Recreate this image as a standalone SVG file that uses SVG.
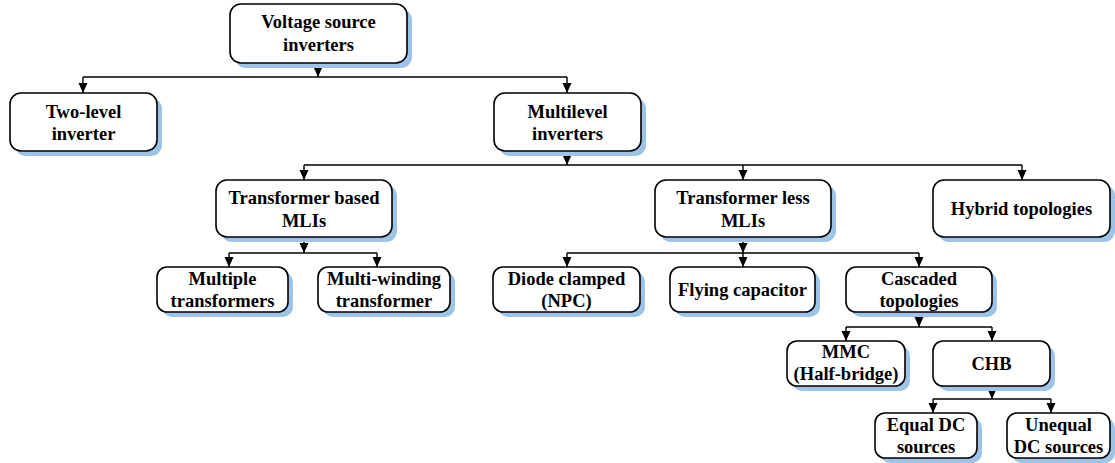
<svg xmlns="http://www.w3.org/2000/svg" width="1115" height="463" viewBox="0 0 1115 463">
<defs>
<marker id="ah" viewBox="0 0 10 10" refX="10" refY="5" markerWidth="11" markerHeight="10" markerUnits="userSpaceOnUse" orient="auto">
<path d="M0,0.5 L10,5 L0,9.5 Z" fill="#000"/>
</marker>
<style>
.sh{fill:#9DC3E6;stroke:none}
.bx{fill:#fff;stroke:#000;stroke-width:1.6}
.t{font-family:"Liberation Serif","Times New Roman","DejaVu Serif",serif;font-weight:bold;font-size:18.5px;fill:#000;text-anchor:middle}
.c{fill:none;stroke:#000;stroke-width:1.4}
.a{fill:none;stroke:#000;stroke-width:1.4;marker-end:url(#ah)}
</style>
</defs>
<rect width="1115" height="463" fill="#fff"/>

<g id="connectors">
<path class="a" d="M318,63 V77"/>
<path class="c" d="M83,77 H567"/>
<path class="a" d="M83,77 V93"/>
<path class="a" d="M567,77 V93"/>

<path class="a" d="M567,151 V165"/>
<path class="c" d="M304,165 H1022"/>
<path class="a" d="M304,165 V180"/>
<path class="a" d="M743,165 V180"/>
<path class="a" d="M1022,165 V180"/>

<path class="a" d="M304,237 V253"/>
<path class="c" d="M229,253 H377"/>
<path class="a" d="M229,253 V267"/>
<path class="a" d="M377,253 V267"/>

<path class="a" d="M743,237 V253"/>
<path class="c" d="M567,253 H919"/>
<path class="a" d="M567,253 V267"/>
<path class="a" d="M743,253 V267"/>
<path class="a" d="M919,253 V267"/>

<path class="a" d="M919,312 V327"/>
<path class="c" d="M846,327 H992"/>
<path class="a" d="M846,327 V341"/>
<path class="a" d="M992,327 V341"/>

<path class="a" d="M992,386 V399"/>
<path class="c" d="M933,399 H1051"/>
<path class="a" d="M933,399 V413"/>
<path class="a" d="M1051,399 V413"/>
</g>

<g id="vsi">
<rect class="sh" x="235" y="9" width="177" height="59" rx="11"/>
<rect class="bx" x="230" y="4" width="177" height="59" rx="11"/>
<text class="t" x="318.5" y="28">Voltage source</text>
<text class="t" x="318.5" y="51">inverters</text>
</g>

<g id="two-level">
<rect class="sh" x="15" y="98" width="147" height="58" rx="11"/>
<rect class="bx" x="10" y="93" width="147" height="58" rx="11"/>
<text class="t" x="83.5" y="118">Two-level</text>
<text class="t" x="83.5" y="140">inverter</text>
</g>

<g id="multilevel">
<rect class="sh" x="499" y="98" width="147" height="58" rx="11"/>
<rect class="bx" x="494" y="93" width="147" height="58" rx="11"/>
<text class="t" x="567.5" y="118">Multilevel</text>
<text class="t" x="567.5" y="140">inverters</text>
</g>

<g id="transformer-based">
<rect class="sh" x="221" y="185" width="176" height="57" rx="11"/>
<rect class="bx" x="216" y="180" width="176" height="57" rx="11"/>
<text class="t" x="304" y="204">Transformer based</text>
<text class="t" x="304" y="227">MLIs</text>
</g>

<g id="transformer-less">
<rect class="sh" x="660" y="185" width="176" height="57" rx="11"/>
<rect class="bx" x="655" y="180" width="176" height="57" rx="11"/>
<text class="t" x="743" y="204">Transformer less</text>
<text class="t" x="743" y="227">MLIs</text>
</g>

<g id="hybrid">
<rect class="sh" x="938" y="185" width="177" height="57" rx="11"/>
<rect class="bx" x="933" y="180" width="177" height="57" rx="11"/>
<text class="t" x="1021.5" y="215">Hybrid topologies</text>
</g>

<g id="multiple-transformers">
<rect class="sh" x="162" y="272" width="131" height="45" rx="10"/>
<rect class="bx" x="157" y="267" width="131" height="45" rx="10"/>
<text class="t" x="222.5" y="285">Multiple</text>
<text class="t" x="222.5" y="307">transformers</text>
</g>

<g id="multi-winding">
<rect class="sh" x="323" y="272" width="132" height="45" rx="10"/>
<rect class="bx" x="318" y="267" width="132" height="45" rx="10"/>
<text class="t" x="384" y="285">Multi-winding</text>
<text class="t" x="384" y="307">transformer</text>
</g>

<g id="diode-clamped">
<rect class="sh" x="498" y="272" width="147" height="45" rx="10"/>
<rect class="bx" x="493" y="267" width="147" height="45" rx="10"/>
<text class="t" x="566.5" y="285">Diode clamped</text>
<text class="t" x="566.5" y="307">(NPC)</text>
</g>

<g id="flying-capacitor">
<rect class="sh" x="675" y="272" width="145" height="45" rx="10"/>
<rect class="bx" x="670" y="267" width="145" height="45" rx="10"/>
<text class="t" x="742.5" y="296">Flying capacitor</text>
</g>

<g id="cascaded">
<rect class="sh" x="851" y="272" width="146" height="45" rx="10"/>
<rect class="bx" x="846" y="267" width="146" height="45" rx="10"/>
<text class="t" x="919" y="285">Cascaded</text>
<text class="t" x="919" y="307">topologies</text>
</g>

<g id="mmc">
<rect class="sh" x="792" y="346" width="118" height="45" rx="10"/>
<rect class="bx" x="787" y="341" width="118" height="45" rx="10"/>
<text class="t" x="846" y="358">MMC</text>
<text class="t" x="846" y="380">(Half-bridge)</text>
</g>

<g id="chb">
<rect class="sh" x="938" y="346" width="117" height="45" rx="10"/>
<rect class="bx" x="933" y="341" width="117" height="45" rx="10"/>
<text class="t" x="991.5" y="370">CHB</text>
</g>

<g id="equal-dc">
<rect class="sh" x="880" y="418" width="102" height="45" rx="10"/>
<rect class="bx" x="875" y="413" width="102" height="45" rx="10"/>
<text class="t" x="926" y="431">Equal DC</text>
<text class="t" x="926" y="453">sources</text>
</g>

<g id="unequal-dc">
<rect class="sh" x="1012" y="418" width="103" height="45" rx="10"/>
<rect class="bx" x="1007" y="413" width="103" height="45" rx="10"/>
<text class="t" x="1058.5" y="431">Unequal</text>
<text class="t" x="1058.5" y="453">DC sources</text>
</g>
</svg>
